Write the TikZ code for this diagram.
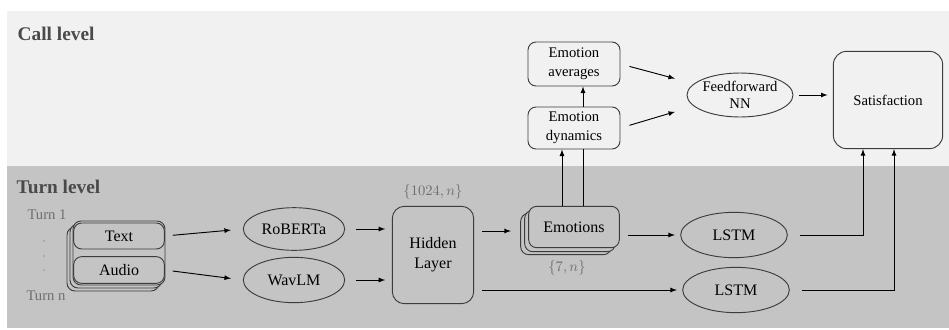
\documentclass[tikz,border=0pt]{standalone}
\usepackage{amsmath}
\usepackage{fontspec}
\setmainfont{Liberation Serif}
\newfontfamily\boxfont{Liberation Serif}
\usepackage{xcolor}
\usetikzlibrary{shapes.geometric, positioning}

\definecolor{callbg}{HTML}{F1F1F1}
\definecolor{turnbg}{HTML}{C4C4C4}
\definecolor{edge}{HTML}{3C3C3C}
\definecolor{labelgray}{HTML}{4A4A4A}

\tikzset{
  box/.style={draw=edge, line width=0.7pt, rounded corners=6pt, align=center,
    inner sep=0pt, font=\boxfont\fontsize{12}{15}\selectfont},
  callbox/.style={box, fill=callbg, font=\boxfont\fontsize{11}{14}\selectfont},
  turnbox/.style={box, fill=turnbg},
  oval/.style={draw=edge, line width=0.7pt, ellipse, inner sep=0pt, align=center,
    font=\boxfont\fontsize{12}{14}\selectfont},
  level/.style={anchor=west, font=\boxfont\fontsize{14.5}{16}\selectfont\bfseries, text=labelgray},
  dimlabel/.style={text=labelgray!80, font=\boxfont\fontsize{11}{12}\selectfont},
  link/.style={->, line width=0.7pt},
}

\begin{document}
\begin{tikzpicture}[>=latex, x=0.75pt, y=-0.75pt]
    \useasboundingbox (0,0) rectangle (949,329);
    % Hintergrund der beiden Ebenen
    \fill[callbg] (7,11) rectangle (949,166);
    \fill[turnbg] (7,166) rectangle (949,328);
    \node[level] (calllbl) at (13,34) {Call level};
    \node[level] (turnlbl) at (12,187) {Turn level};

    % Eingaben pro Turn
    \node[dimlabel] (turnfirst) at (47,215) {Turn 1};
    \node[dimlabel] (turnlast) at (46,296) {Turn n};
    \foreach \y in {241,256,270}
        \fill[labelgray!60] (44,\y) circle (0.6pt);
    \node[turnbox, minimum width=69pt, minimum height=48pt] (stackc) at (113,259) {};
    \node[turnbox, minimum width=69pt, minimum height=48pt] (stackb) at (116,256) {};
    \node[turnbox, minimum width=69pt, minimum height=48pt] (stacka) at (119,253) {};
    \node[turnbox, minimum width=68pt, minimum height=19.5pt] (text) at (119,236) {Text};
    \node[turnbox, minimum width=68pt, minimum height=20pt] (audio) at (119,270) {Audio};

    % Encoder
    \node[oval, minimum width=76pt, minimum height=32pt] (roberta) at (294,229) {RoBERTa};
    \node[oval, minimum width=76pt, minimum height=34pt] (wavlm) at (294,280) {WavLM};
    \node[turnbox, rounded corners=9pt, minimum width=61pt, minimum height=73pt] (hidden) at (433,255) {Hidden\\Layer};
    \node[text=labelgray!80, font=\fontsize{11}{12}\selectfont] (hiddendim) at (433,192) {$\{1024,n\}$};

    % Emotionen
    \node[turnbox, minimum width=68pt, minimum height=31pt] (emoc) at (566,234) {};
    \node[turnbox, minimum width=68pt, minimum height=31pt] (emob) at (570,231) {};
    \node[turnbox, minimum width=68pt, minimum height=31pt] (emo) at (574,227) {Emotions};
    \node[text=labelgray!80, font=\fontsize{11}{12}\selectfont] (emodim) at (567,268) {$\{7,n\}$};

    % Call level
    \node[callbox, minimum width=69pt, minimum height=33pt] (avg) at (574,64) {Emotion\\averages};
    \node[callbox, minimum width=69pt, minimum height=31.5pt] (dyn) at (574,128) {Emotion\\dynamics};
    \node[oval, fill=callbg, minimum width=79pt, minimum height=33pt,
          font=\boxfont\fontsize{11}{13}\selectfont] (ffnn) at (740,95) {Feedforward\\NN};
    \node[callbox, rounded corners=10pt, minimum width=82pt, minimum height=73pt] (sat) at (888,100) {Satisfaction};

    % LSTMs
    \node[oval, minimum width=80pt, minimum height=34pt] (lstma) at (734,235) {LSTM};
    \node[oval, minimum width=80pt, minimum height=34pt] (lstmb) at (736,290) {LSTM};

    % Verbindungen
    \draw[link, shorten <=6pt, shorten >=9pt] (text.east) -- (roberta.west);
    \draw[link, shorten <=6pt, shorten >=9pt] (audio.east) -- (wavlm.west);
    \draw[link, shorten <=8pt, shorten >=5pt] (roberta.east) -- (hidden.west |- roberta);
    \draw[link, shorten <=8pt, shorten >=5pt] (wavlm.east) -- (hidden.west |- wavlm);
    \draw[link, shorten <=6pt, shorten >=7pt] (hidden.east |- emob) -- (emoc.west |- emob);
    \draw[link, shorten <=6pt, shorten >=4pt] (hidden.east |- lstmb) -- (lstmb.west);
    \draw[link, shorten <=6pt, shorten >=4pt] (emo.east |- lstma) -- (lstma.west);
    \draw[link] ([xshift=-9pt]emo.north) -- ([xshift=-9pt]dyn.south);
    \draw[line width=0.7pt] ([xshift=6.75pt]emo.north) -- ([xshift=6.75pt]dyn.south);
    \draw[link] ([xshift=6.75pt]dyn.north) -- ([xshift=6.75pt]avg.south);
    \draw[link, shorten <=7pt, shorten >=9pt] (avg.east) -- ([yshift=10pt]ffnn.west);
    \draw[link, shorten <=7pt, shorten >=9pt] (dyn.east) -- ([yshift=-10pt]ffnn.west);
    \draw[link, shorten <=4pt, shorten >=4pt] (ffnn.east) -- (sat.west |- ffnn);
    \draw[link, shorten <=9pt] (lstma.east) -| ([xshift=-18.75pt]sat.south);
    \draw[link, shorten <=9pt] (lstmb.east) -| ([xshift=4.5pt]sat.south);
\end{tikzpicture}
\end{document}
